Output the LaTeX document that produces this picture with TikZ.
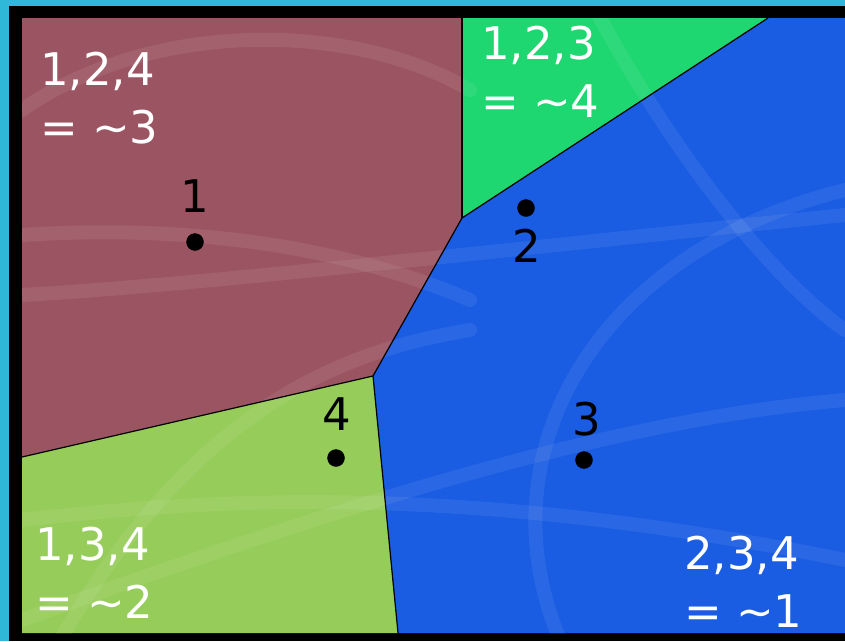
\documentclass[tikz,border=0pt]{standalone}
\usepackage{fontspec}
\setmainfont{DejaVu Sans}
\definecolor{cyanbg}{RGB}{48,184,216}
\definecolor{maroon}{RGB}{155,85,98}
\definecolor{topgreen}{RGB}{30,215,112}
\definecolor{bluereg}{RGB}{26,92,226}
\definecolor{lightgreen}{RGB}{150,204,90}
\tikzset{
  region/.style={draw=black, line width=1.2pt, line join=round},
  sum/.style={text=white, anchor=base west, align=left, inner sep=0pt,
    font=\fontsize{45}{58}\selectfont},
  digit/.style={text=black, anchor=base, inner sep=0pt,
    font=\fontsize{45}{54}\selectfont},
  swirl/.style={white, opacity=0.07, line width=14pt, line cap=round}
}
\begin{document}
\begin{tikzpicture}[x=1pt, y=-1pt]
			\useasboundingbox (0,0) rectangle (845,641);
			\fill[cyanbg] (0,0) rectangle (845,641);
			\fill[black] (9,6) rectangle (845,641);

			\coordinate (tl) at (22,18);
			\coordinate (tr) at (845,18);
			\coordinate (br) at (845,633);
			\coordinate (bl) at (22,633);
			\coordinate (a) at (462,18);
			\coordinate (b) at (768,18);
			\coordinate (c) at (462,218);
			\coordinate (d) at (373,376);
			\coordinate (e) at (22,457);
			\coordinate (f) at (398,633);

			\fill[maroon] (tl) -- (a) -- (c) -- (d) -- (e) -- cycle;
			\fill[topgreen] (a) -- (b) -- (c) -- cycle;
			\fill[bluereg] (b) -- (tr) -- (br) -- (f) -- (d) -- (c) -- cycle;
			\fill[lightgreen] (e) -- (d) -- (f) -- (bl) -- cycle;

			% faint swirls
			\begin{scope}
				\clip (tl) rectangle (br);
				\draw[swirl] (22,110) .. controls (150,20) and (350,20) .. (470,90);
				\draw[swirl] (22,295) .. controls (200,285) and (500,250) .. (845,215);
				\draw[swirl] (22,235) .. controls (250,220) and (400,270) .. (470,300);
				\draw[swirl] (22,620) .. controls (300,520) and (600,420) .. (845,400);
				\draw[swirl] (60,640) .. controls (200,400) and (350,350) .. (470,330);
				\draw[swirl] (560,640) .. controls (480,450) and (600,250) .. (845,190);
				\draw[swirl] (600,18) .. controls (700,200) and (800,300) .. (845,330);
				\draw[swirl] (22,520) .. controls (200,500) and (450,480) .. (845,560);
			\end{scope}

			\draw[region] (a) -- (c);
			\draw[region] (b) -- (c);
			\draw[region] (c) -- (d);
			\draw[region] (d) -- (e);
			\draw[region] (d) -- (f);

			\coordinate (p1) at (195,242);
			\coordinate (p2) at (526,208);
			\coordinate (p3) at (584,460);
			\coordinate (p4) at (336,458);

			\draw[fill=black] (p1) circle (8.5pt);
			\draw[fill=black] (p2) circle (8.5pt);
			\draw[fill=black] (p3) circle (8.5pt);
			\draw[fill=black] (p4) circle (8.5pt);

			\node[digit] (l1) at (195,212) {1};
			\node[digit] (l2) at (527,262) {2};
			\node[digit] (l3) at (587,435) {3};
			\node[digit] (l4) at (337,430) {4};

			\node[sum] (s3) at (40,143) {1,2,4\\= \textasciitilde3};
			\node[sum] (s4) at (481,117) {1,2,3\\= \textasciitilde4};
			\node[sum] (s2) at (35,618) {1,3,4\\= \textasciitilde2};
			\node[sum] (s1) at (684,627) {2,3,4\\= \textasciitilde1};
		\end{tikzpicture}
\end{document}
